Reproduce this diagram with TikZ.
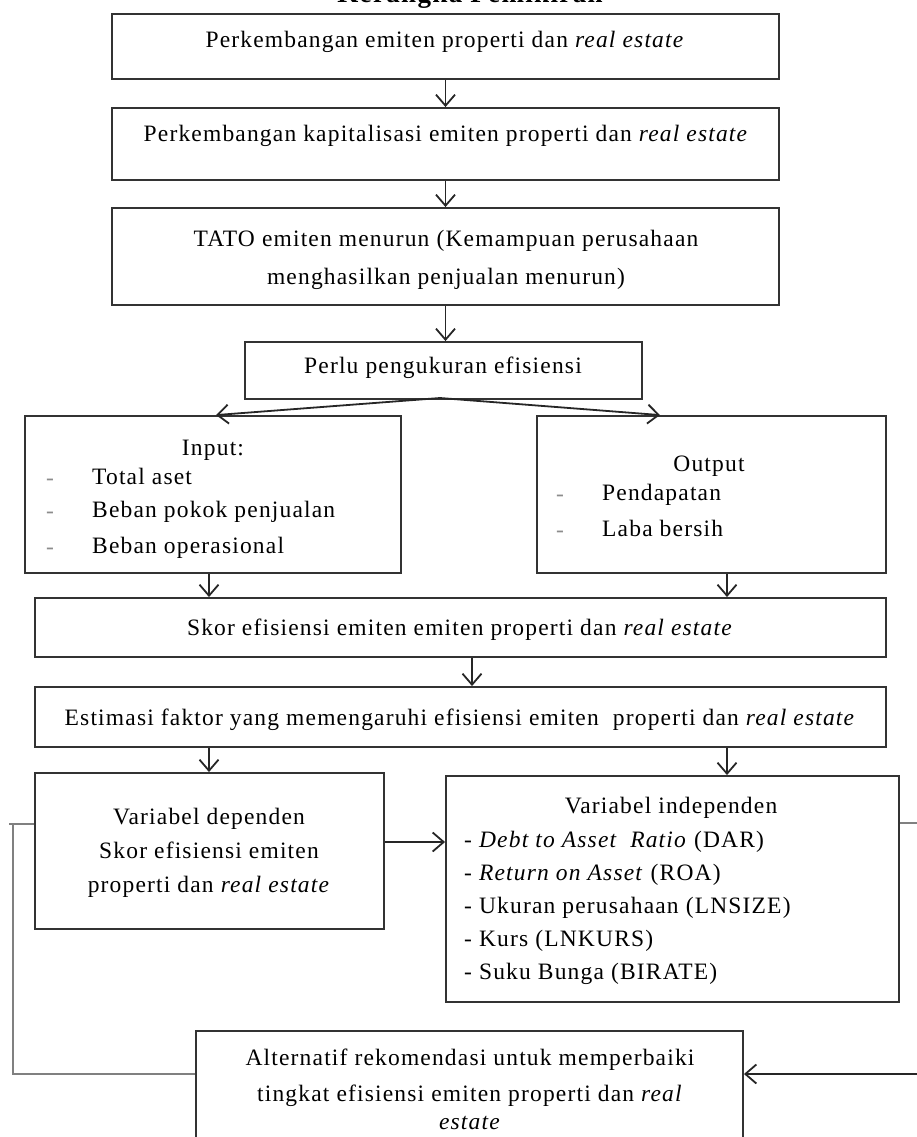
\documentclass[tikz,border=0pt]{standalone}
\usepackage{fontspec}
\setmainfont{Liberation Serif}[LetterSpace=5]
\usetikzlibrary{arrows.meta,fit}
\begin{document}
\begin{tikzpicture}[x=1pt,y=-1pt,
  font=\fontsize{23.5}{27}\selectfont,
  box/.style={draw=black!80, line width=1.9pt, inner sep=0pt},
  flow/.style={draw=black!85, line width=1.8pt, -{Straight Barb[length=11pt,width=19pt,line width=1.8pt]}},
  fback/.style={draw=black!50, line width=1.9pt},
  txt/.style={anchor=mid, inner sep=0pt},
  item/.style={anchor=mid west, inner sep=0pt},
  dashmark/.style={anchor=mid, inner sep=0pt, text=black!45}]
\useasboundingbox (0,0) rectangle (917,1137);
\clip (0,0) rectangle (917,1137);
% title
\node[anchor=base, inner sep=0pt, font=\fontsize{27}{30}\bfseries\selectfont] (title) at (470,3) {Kerangka Pemikiran};
% boxes
\node[box, fit={(112,14) (779,79)}] (b1) {};
\node[box, fit={(112,108) (779,180)}] (b2) {};
\node[box, fit={(112,208) (779,305)}] (b3) {};
\node[box, fit={(245,342) (642,399)}] (b4) {};
\node[box, fit={(25,416) (401,573)}] (inp) {};
\node[box, fit={(537,416) (886,573)}] (outp) {};
\node[box, fit={(35,598) (886,657)}] (skor) {};
\node[box, fit={(35,687) (886,747)}] (est) {};
\node[box, fit={(35,773) (384,929)}] (vd) {};
\node[box, fit={(446,776) (899,1002)}] (vi) {};
\node[box, fit={(196,1031) (743,1170)}] (alt) {};
% texts
\node[txt] (t1) at (445,45) {Perkembangan emiten properti dan \textit{real estate}};
\node[txt] (t2) at (446,139) {Perkembangan kapitalisasi emiten properti dan \textit{real estate}};
\node[txt] (t3a) at (446,244) {TATO emiten menurun (Kemampuan perusahaan};
\node[txt] (t3b) at (446,282) {menghasilkan penjualan menurun)};
\node[txt] (t4) at (443,371) {Perlu pengukuran efisiensi};
\node[txt] (tin) at (213,453) {Input:};
\node[dashmark] (din1) at (50,483) {-};
\node[item] (tin1) at (92,482) {Total aset};
\node[dashmark] (din2) at (50,516) {-};
\node[item] (tin2) at (92,515) {Beban pokok penjualan};
\node[dashmark] (din3) at (50,552) {-};
\node[item] (tin3) at (92,551) {Beban operasional};
\node[txt] (tout) at (709,469) {Output};
\node[dashmark] (dout1) at (560,499) {-};
\node[item] (tout1) at (602,498) {Pendapatan};
\node[dashmark] (dout2) at (560,535) {-};
\node[item] (tout2) at (602,534) {Laba bersih};
\node[txt] (tskor) at (460,633) {Skor efisiensi emiten emiten properti dan \textit{real estate}};
\node[txt] (test) at (460,723) {Estimasi faktor yang memengaruhi efisiensi emiten\ \ properti dan \textit{real estate}};
\node[txt] (tvd1) at (209,822) {Variabel dependen};
\node[txt] (tvd2) at (209,856) {Skor efisiensi emiten};
\node[txt] (tvd3) at (209,890) {properti dan \textit{real estate}};
\node[txt] (tvi) at (671,811) {Variabel independen};
\node[item] (tvi1) at (464,845) {- \textit{Debt to Asset\ \ Ratio} (DAR)};
\node[item] (tvi2) at (464,878) {- \textit{Return on Asset} (ROA)};
\node[item] (tvi3) at (464,911) {- Ukuran perusahaan (LNSIZE)};
\node[item] (tvi4) at (464,944) {- Kurs (LNKURS)};
\node[item] (tvi5) at (464,977) {- Suku Bunga (BIRATE)};
\node[txt] (ta1) at (470,1063) {Alternatif rekomendasi untuk memperbaiki};
\node[txt] (ta2) at (470,1099) {tingkat efisiensi emiten properti dan \textit{real}};
\node[txt] (ta3) at (470,1127) {\textit{estate}};
% connectors
\draw[flow] (b1.south) -- (b1.south |- b2.north);
\draw[flow] (b2.south) -- (b2.south |- b3.north);
\draw[flow] (b3.south) -- (b3.south |- b4.north);
\coordinate (split) at (440,398);
\draw[flow] (split) -- ([xshift=3pt]inp.north);
\draw[flow] (split) -- ([xshift=-51.5pt]outp.north);
\draw[flow] ([xshift=-4pt]inp.south) -- ([xshift=-4pt]inp.south |- skor.north);
\draw[flow] ([xshift=15.5pt]outp.south) -- ([xshift=15.5pt]outp.south |- skor.north);
\draw[flow] ([xshift=11.5pt]skor.south) -- ([xshift=11.5pt]skor.south |- est.north);
\draw[flow] ([xshift=-251.5pt]est.south) -- ([xshift=-251.5pt]est.south |- vd.north);
\draw[flow] ([xshift=266.5pt]est.south) -- ([xshift=266.5pt]est.south |- vi.north);
\coordinate (m) at (0,842);
\draw[flow] (vd.east |- m) -- (vi.west |- m);
\coordinate (L1) at (13,824);
\coordinate (L2) at (13,1074);
\draw[fback] (vd.west |- L1) -- (9,824);
\draw[fback] (L1) -- (L2) -- (alt.west |- L2);
\coordinate (R1) at (940,823);
\coordinate (R2) at (940,1074);
\draw[fback] (vi.east |- R1) -- (R1) -- (R2);
\draw[flow] (R2) -- (alt.east |- R2);
\end{tikzpicture}
\end{document}
